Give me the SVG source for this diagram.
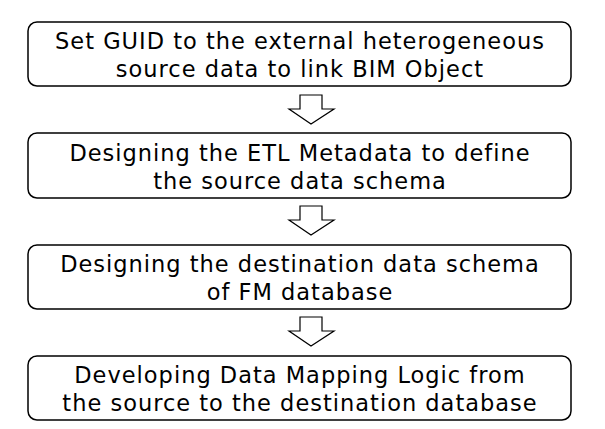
<svg xmlns="http://www.w3.org/2000/svg" width="605" height="429" viewBox="0 0 605 429">
<style>
.box{fill:#fff;stroke:#000;stroke-width:1.5}
.t{font-family:"DejaVu Sans",sans-serif;font-size:22.5px;letter-spacing:1px;fill:#000;text-anchor:middle}
.arr{fill:#fff;stroke:#000;stroke-width:1.2;stroke-linejoin:miter}
</style>
<defs>
<path id="down" d="M300,0 H322 V14 H334 L311,29 L289,14 H300 Z"/>
</defs>
<rect width="605" height="429" fill="#fff"/>
<g id="connectors">
<use href="#down" class="arr" transform="translate(0,95)"/>
<use href="#down" class="arr" transform="translate(0,206)"/>
<use href="#down" class="arr" transform="translate(0,317)"/>
</g>
<g id="step1">
<rect class="box" x="28" y="22" width="543" height="64" rx="9"/>
<text class="t" x="300" y="49">Set GUID to the external heterogeneous</text>
<text class="t" x="300" y="77">source data to link BIM Object</text>
</g>
<g id="step2">
<rect class="box" x="28" y="133" width="543" height="65" rx="9"/>
<text class="t" x="300" y="161">Designing the ETL Metadata to define</text>
<text class="t" x="300" y="189">the source data schema</text>
</g>
<g id="step3">
<rect class="box" x="28" y="245" width="543" height="64" rx="9"/>
<text class="t" x="300" y="272">Designing the destination data schema</text>
<text class="t" x="300" y="300">of FM database</text>
</g>
<g id="step4">
<rect class="box" x="28" y="356" width="543" height="64" rx="9"/>
<text class="t" x="300" y="383">Developing Data Mapping Logic from</text>
<text class="t" x="300" y="411">the source to the destination database</text>
</g>
</svg>
